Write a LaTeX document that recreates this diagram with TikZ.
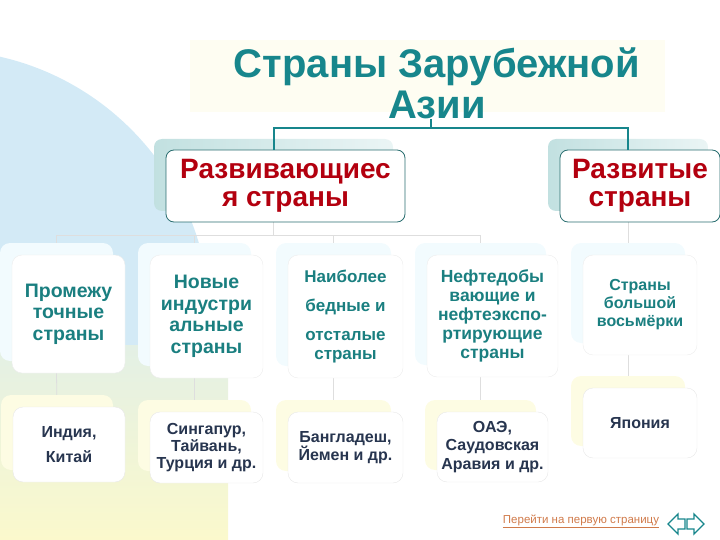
\documentclass[tikz,border=0pt]{standalone}
\usepackage{fontspec}
\setmainfont{Liberation Sans}
\usetikzlibrary{shadows,backgrounds}
\definecolor{titleteal}{HTML}{17868C}
\definecolor{groupteal}{HTML}{1A7F80}
\definecolor{mainred}{HTML}{B3000F}
\definecolor{listnavy}{HTML}{27354F}
\definecolor{edgeteal}{HTML}{2A6E70}
\definecolor{bgblue}{HTML}{D3EAF6}
\definecolor{bgyellow}{HTML}{FBF9CC}
\definecolor{linkorange}{HTML}{D07A4A}
\begin{document}
\begin{tikzpicture}[
        x=1pt, y=-1pt,
        font=\bfseries
    ]
    \tikzset{
        titletext/.style = {align=center, inner sep=0pt, text=titleteal, font=\bfseries\fontsize{40}{41}\selectfont},
        mainbox/.style = {rectangle, rounded corners=8pt, draw=edgeteal, line width=0.8pt, fill=white, align=center, inner sep=0pt, text=mainred, font=\bfseries\fontsize{28}{28}\selectfont, minimum height=72pt, general shadow={left color=teal!24, right color=teal!8, shadow xshift=-12pt, shadow yshift=11pt}},
        groupbox/.style = {rectangle, rounded corners=10pt, draw=black!7, fill=white, align=center, text=groupteal, inner sep=1pt, general shadow={fill=cyan!5, shadow xshift=-12pt, shadow yshift=12pt}},
        listbox/.style = {rectangle, rounded corners=10pt, draw=black!9, fill=white, align=center, text=listnavy, inner sep=1pt, font=\bfseries\fontsize{16}{17}\selectfont, general shadow={fill=bgyellow!55, shadow xshift=-12pt, shadow yshift=12pt}},
        titleline/.style = {draw=titleteal, line width=2pt},
        faintline/.style = {draw=black!13, line width=0.8pt},
        navarrow/.style = {draw=titleteal, line width=1.3pt, fill=white, line join=miter},
    }
    \useasboundingbox (0,0) rectangle (720,540);
    %
    \node[titletext] at (437,83) (title) {Страны Зарубежной\\Азии};
    %
    \node[mainbox, minimum width=239pt] at (285.5,186) (dev) {Развивающиес\\я страны};
    \node[mainbox, minimum width=160pt] at (640,186) (devd) {Развитые\\страны};
    %
    \node[groupbox, minimum width=113pt, minimum height=118pt, font=\bfseries\fontsize{19.5}{21.5}\selectfont] at (68.5,314) (prom) {Промежу\\точные\\страны};
    \node[groupbox, minimum width=113pt, minimum height=123pt, font=\bfseries\fontsize{19.5}{21.5}\selectfont] at (206.5,316.5) (nov) {Новые\\индустри\\альные\\страны};
    \node[groupbox, minimum width=115pt, minimum height=123pt, font=\bfseries\fontsize{17}{19}\selectfont] at (345.5,316.5) (poor) {Наиболее\\[10pt]бедные и\\[10pt]отсталые\\страны};
    \node[groupbox, minimum width=131pt, minimum height=122pt, font=\bfseries\fontsize{17.5}{19}\selectfont] at (492.5,316) (oil) {Нефтедобы\\вающие и\\нефтеэкспо-\\ртирующие\\страны};
    \node[groupbox, minimum width=114pt, minimum height=100pt, font=\bfseries\fontsize{16}{18}\selectfont] at (640,305) (bigeight) {Страны\\большой\\восьмёрки};
    %
    \node[listbox, minimum width=112pt, minimum height=75pt] at (69,444.5) (india) {Индия,\\[8pt]Китай};
    \node[listbox, minimum width=113pt, minimum height=71pt] at (206.5,447.5) (sing) {Сингапур,\\Тайвань,\\Турция и др.};
    \node[listbox, minimum width=115pt, minimum height=71pt] at (345.5,447.5) (bangl) {Бангладеш,\\Йемен и др.};
    \node[listbox, minimum width=111pt, minimum height=70pt, font=\bfseries\fontsize{16}{18.5}\selectfont] at (492.5,447) (uae) {ОАЭ,\\Саудовская\\Аравия и др.};
    \node[listbox, minimum width=114pt, minimum height=70pt] at (640,423) (japan) {Япония};
    %
    \node[text=linkorange, font=\fontsize{11.5}{13}\selectfont] at (581,521) (link) {\underline{Перейти на первую страницу}};
    \draw[navarrow] (668,524) -- (678,514) -- (678,519) -- (685,519) -- (685,529) -- (678,529) -- (678,534) -- cycle;
    \draw[navarrow] (704,524) -- (694,514) -- (694,519) -- (687,519) -- (687,529) -- (694,529) -- (694,534) -- cycle;
    %
    \draw[titleline] ([xshift=-6pt]title.south) -- ++(0,9) coordinate (fork);
    \draw[titleline] ([xshift=-12pt]dev.north) |- (fork) -| ([xshift=-12pt]devd.north);
    %
    \begin{scope}[on background layer]
        \fill[bgyellow!25] (190,40) rectangle (665,112);
        \begin{scope}
            \clip (0,0) rectangle (720,360);
            \fill[bgblue] (-60,320) circle (270);
        \end{scope}
        \shade[top color=bgblue!60!bgyellow, bottom color=bgyellow] (0,345) rectangle (228,540);
        %
        \draw[faintline] ([xshift=-12pt]dev.south) -- ++(0,13) coordinate (devfork);
        \draw[faintline] ([xshift=-12pt]prom.north) |- (devfork) -| ([xshift=-12pt]oil.north);
        \draw[faintline] ([xshift=-12pt]nov.north) -- ([xshift=-12pt]nov.north |- devfork);
        \draw[faintline] ([xshift=-12pt]poor.north) -- ([xshift=-12pt]poor.north |- devfork);
        \draw[faintline] ([xshift=-12pt]devd.south) -- ([xshift=-12pt]bigeight.north);
        %
        \draw[faintline] ([xshift=-12pt]prom.south) -- ([xshift=-12pt]india.north);
        \draw[faintline] ([xshift=-12pt]nov.south) -- ([xshift=-12pt]sing.north);
        \draw[faintline] ([xshift=-12pt]poor.south) -- ([xshift=-12pt]bangl.north);
        \draw[faintline] ([xshift=-12pt]oil.south) -- ([xshift=-12pt]uae.north);
        \draw[faintline] ([xshift=-12pt]bigeight.south) -- ([xshift=-12pt]japan.north);
    \end{scope}
\end{tikzpicture}
\end{document}
